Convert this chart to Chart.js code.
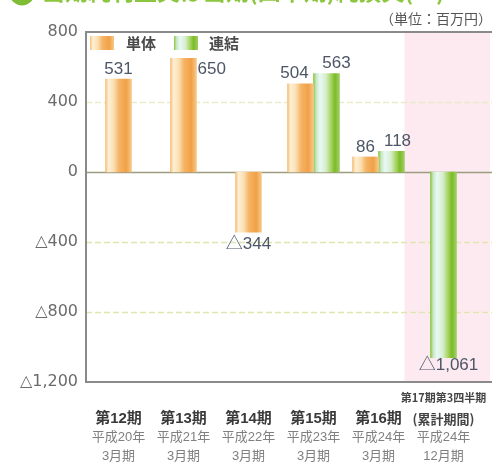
<!DOCTYPE html>
<html>
<head>
<meta charset="utf-8">
<script src="https://cdn.jsdelivr.net/npm/chart.js@4.4.1/dist/chart.umd.min.js"></script>
<style>
  html, body { margin: 0; padding: 0; background: #fff; }
  #wrap { width: 492px; height: 469px; }
</style>
</head>
<body>
<div id="wrap"><canvas id="c" width="492" height="469"></canvas></div>
<script>
// ---- data ----
const periods = ['第12期', '第13期', '第14期', '第15期', '第16期', ['第17期第3四半期', '(累計期間)']];
const yearLabels = ['平成20年', '平成21年', '平成22年', '平成23年', '平成24年', '平成24年'];
const monthLabels = ['3月期', '3月期', '3月期', '3月期', '3月期', '12月期'];
const seriesNames = ['単体', '連結'];
const nonConsolidated = [531, 650, -344, 504, 86, null];
const consolidated = [null, null, null, 563, 118, -1061];
const yTickValues = [800, 400, 0, -400, -800, -1200];

const TITLE = '当期純利益又は当期(四半期)純損失(△)';
const UNIT = '（単位：百万円）';

// ---- styling ----
const LATIN = "'Liberation Sans', 'Noto Sans CJK JP', sans-serif";
const CJK = "'Noto Sans CJK JP', sans-serif";
const BAR_STOPS = [
  [[0, '#f6bf78'], [0.12, '#fdf0d6'], [0.32, '#fbdfb2'], [0.52, '#f5b466'], [0.8, '#f1a146'], [1, '#f7c98c']],
  [[0, '#8cc53e'], [0.1, '#c6e7c2'], [0.25, '#e9f9f6'], [0.48, '#d6eecc'], [0.68, '#a5d35e'], [0.82, '#7abb28'], [1, '#a2cf64']]
];
// per-label nudges (datasetIndex:dataIndex)
const LABEL_NUDGE = {
  '0:1': { side: 'right' },
  '0:3': { dx: -6 },
  '1:3': { dx: 10 },
  '1:4': { dx: 6 },
  '1:5': { dx: 5, dy: -4 }
};
// legend item anchors: swatch left, text left
const LEGEND_ITEMS = [[90, 126], [174, 209]];

const fmt = v => (v < 0 ? '△' : '') + Math.abs(v).toLocaleString('en-US');

function hGradient(ctx, x0, x1, stops) {
  const g = ctx.createLinearGradient(x0, 0, x1, 0);
  stops.forEach(([o, c]) => g.addColorStop(o, c));
  return g;
}

const decor = {
  id: 'decor',
  beforeDraw(chart) {
    const { ctx, chartArea: a, scales: { x } } = chart;
    const step = x.getPixelForValue(1) - x.getPixelForValue(0);
    const last = periods.length - 1;
    // shaded column for the latest, cumulative period
    ctx.save();
    ctx.fillStyle = '#fdeaf0';
    const bx = x.getPixelForValue(last) - step * 0.6;
    ctx.fillRect(bx, a.top, chart.width - 2 - bx, a.bottom - a.top);
    ctx.restore();
  },
  beforeDatasetsDraw(chart) {
    const { ctx, chartArea: a, scales: { y } } = chart;
    const right = chart.width;
    ctx.save();
    y.ticks.forEach(t => {
      if (t.value === y.max || t.value === y.min) return;
      const py = Math.round(y.getPixelForValue(t.value)) + 0.5;
      ctx.beginPath();
      if (t.value === 0) {
        ctx.setLineDash([]);
        ctx.strokeStyle = '#9c9c80';
        ctx.lineWidth = 1.6;
      } else {
        ctx.setLineDash([6, 3]);
        ctx.strokeStyle = t.value > 0 ? '#e8ecc8' : '#dfe6ae';
        ctx.lineWidth = 1.5;
      }
      ctx.moveTo(a.left, py);
      ctx.lineTo(right, py);
      ctx.stroke();
    });
    ctx.restore();
    // cylinder-like shading on each bar
    chart.data.datasets.forEach((ds, di) => {
      chart.getDatasetMeta(di).data.forEach(el => {
        if (!el || el.width == null || isNaN(el.x)) return;
        el.options.backgroundColor = hGradient(ctx, el.x - el.width / 2, el.x + el.width / 2, BAR_STOPS[di]);
      });
    });
  },
  afterDatasetsDraw(chart) {
    const { ctx, chartArea: a } = chart;
    // value labels
    ctx.save();
    ctx.font = '17px ' + LATIN;
    ctx.fillStyle = '#4c5666';
    ctx.textBaseline = 'middle';
    chart.data.datasets.forEach((ds, di) => {
      chart.getDatasetMeta(di).data.forEach((el, i) => {
        const v = ds.data[i];
        if (v == null) return;
        const n = LABEL_NUDGE[di + ':' + i] || {};
        const top = Math.min(el.y, el.base), bottom = Math.max(el.y, el.base);
        let lx, ly;
        if (n.side === 'right') {
          ctx.textAlign = 'left';
          lx = el.x + el.width / 2 + 1;
          ly = top + 11;
        } else {
          ctx.textAlign = 'center';
          lx = el.x;
          ly = v >= 0 ? top - 10 : bottom + 12;
        }
        ctx.fillText(fmt(v), lx + (n.dx || 0), ly + (n.dy || 0));
      });
    });
    ctx.restore();
    // frame
    ctx.save();
    ctx.strokeStyle = '#8a8a8a';
    ctx.lineWidth = 2;
    ctx.beginPath();
    ctx.moveTo(chart.width, a.top);
    ctx.lineTo(a.left, a.top);
    ctx.lineTo(a.left, a.bottom);
    ctx.lineTo(chart.width, a.bottom);
    ctx.stroke();
    ctx.restore();
    // legend
    ctx.save();
    const ly = a.top + 11;
    ctx.font = 'bold 15px ' + CJK;
    ctx.textAlign = 'left';
    ctx.textBaseline = 'middle';
    seriesNames.forEach((name, i) => {
      const [sx, tx] = LEGEND_ITEMS[i];
      ctx.fillStyle = hGradient(ctx, sx, sx + 24, BAR_STOPS[i]);
      ctx.fillRect(sx, ly - 7, 24, 14);
      ctx.fillStyle = '#4a4a4a';
      ctx.fillText(name, tx, ly);
    });
    ctx.restore();
  },
  afterDraw(chart) {
    const { ctx, scales: { x } } = chart;
    ctx.save();
    // heading (runs off the top edge)
    ctx.fillStyle = '#7fbd35';
    ctx.beginPath();
    ctx.arc(22, -7, 12.5, 0, Math.PI * 2);
    ctx.fill();
    ctx.fillStyle = '#8cc63f';
    ctx.font = 'bold 23px ' + CJK;
    ctx.textAlign = 'left';
    ctx.textBaseline = 'alphabetic';
    ctx.fillText(TITLE, 42, 0);
    // unit note
    ctx.fillStyle = '#555';
    ctx.font = '14px ' + CJK;
    ctx.textAlign = 'right';
    ctx.textBaseline = 'middle';
    ctx.fillText(UNIT, 492, 19);
    // category labels
    ctx.textAlign = 'center';
    periods.forEach((p, i) => {
      const cx = x.getPixelForValue(i);
      if (Array.isArray(p)) {
        ctx.fillStyle = '#444';
        ctx.font = 'bold 11px ' + CJK;
        ctx.fillText(p[0], cx, 398);
        ctx.font = 'bold 13px ' + CJK;
        ctx.fillText(p[1], cx, 419);
      } else {
        ctx.fillStyle = '#3a3a3a';
        ctx.font = 'bold 15px ' + LATIN;
        ctx.fillText(p, cx, 419);
      }
      ctx.fillStyle = '#808080';
      ctx.font = '13px ' + LATIN;
      ctx.fillText(yearLabels[i], cx, 437);
      ctx.fillText(monthLabels[i], cx, 456);
    });
    ctx.restore();
  }
};

new Chart(document.getElementById('c'), {
  type: 'bar',
  data: {
    labels: periods,
    datasets: [
      { label: seriesNames[0], data: nonConsolidated, backgroundColor: () => '#f4b064' },
      { label: seriesNames[1], data: consolidated, backgroundColor: () => '#8cc63f' }
    ]
  },
  options: {
    responsive: false,
    devicePixelRatio: 1,
    animation: false,
    events: [],
    layout: { padding: { left: 0, top: 32, right: 16, bottom: 87 } },
    datasets: { bar: { barThickness: 26, skipNull: true, borderWidth: 0 } },
    scales: {
      x: { display: false, offset: true },
      y: {
        min: -1200,
        max: 800,
        afterBuildTicks: s => { s.ticks = yTickValues.map(v => ({ value: v })); },
        afterFit: s => { s.width = 86; },
        grid: { display: false, drawTicks: false },
        border: { display: false },
        ticks: { padding: 8, color: '#6b6b6b', font: { size: 16, family: "'DejaVu Sans', sans-serif" }, callback: v => fmt(v) }
      }
    },
    plugins: {
      tooltip: { enabled: false },
      legend: { display: false }
    }
  },
  plugins: [decor]
});
</script>
</body>
</html>
